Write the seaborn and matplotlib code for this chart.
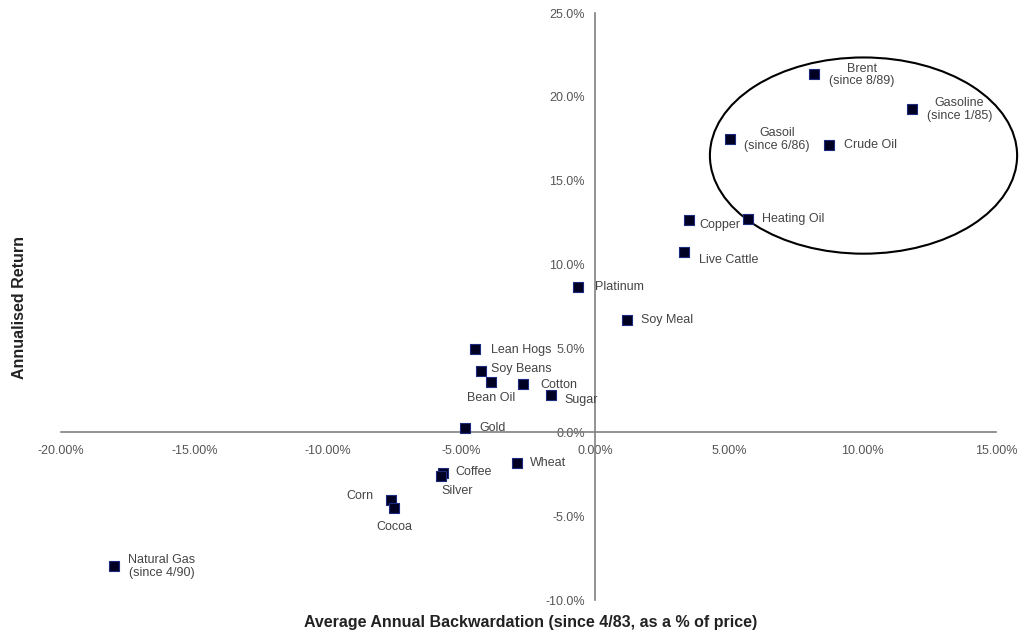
import matplotlib
matplotlib.use("Agg")
import matplotlib.pyplot as plt
from matplotlib.patches import Ellipse
from matplotlib.ticker import FuncFormatter
import pandas as pd
import seaborn as sns

# Data (values in %)
commodities = ["Natural Gas\n(since 4/90)", "Corn", "Cocoa", "Coffee", "Silver", "Gold", "Wheat",
               "Platinum", "Soy Meal", "Lean Hogs", "Soy Beans", "Bean Oil", "Cotton", "Sugar",
               "Copper", "Live Cattle", "Heating Oil", "Gasoil\n(since 6/86)",
               "Brent\n(since 8/89)", "Crude Oil", "Gasoline\n(since 1/85)"]
backwardation = [-18.0, -7.63, -7.53, -5.70, -5.78, -4.88, -2.94,
                 -0.64, 1.17, -4.50, -4.29, -3.91, -2.69, -1.64,
                 3.51, 3.31, 5.71, 5.05, 8.18, 8.75, 11.87]
annual_return = [-8.0, -4.05, -4.50, -2.40, -2.60, 0.28, -1.83,
                 8.66, 6.68, 4.95, 3.64, 3.00, 2.86, 2.25,
                 12.64, 10.75, 12.74, 17.51, 21.35, 17.11, 19.30]
# label offsets in pixels, and horizontal alignment
label_dx = [14, -18, 0, 12, 1, 14, 13, 17, 14, 16, 10, 0, 17, 13, 10, 15, 14, 47, 48, 15, 47]
label_dy = [0, 4, -19, 1, -15, 0, 0, 0, 0, -1, 2, -16, -1, -5, -5, -8, 0, -1, -1, 0, -1]
label_ha = ["left", "right", "center", "left", "left", "left", "left", "left", "left", "left",
            "left", "center", "left", "left", "left", "left", "left", "center", "center",
            "left", "center"]

df = pd.DataFrame({"commodity": commodities, "x": backwardation, "y": annual_return})

sns.set_style("white")
plt.rcParams["font.family"] = ["Liberation Sans", "DejaVu Sans"]

fig = plt.figure(figsize=(10.36, 6.35), dpi=100)
ax = fig.add_axes([0.0589, 0.0551, 0.9025, 0.9244])

sns.scatterplot(data=df, x="x", y="y", marker="s", s=45, color="#000022",
                edgecolor="#1c2a80", linewidth=0.8, ax=ax, zorder=3)

for i, row in df.iterrows():
    ax.annotate(row["commodity"], (row["x"], row["y"]),
                xytext=(label_dx[i], label_dy[i]), textcoords="offset pixels",
                ha=label_ha[i], va="center", fontsize=9, color="#444444",
                multialignment="center", linespacing=1.05)

# ellipse around the energy complex
ax.add_patch(Ellipse((10.04, 16.5), 11.5, 11.7, fill=False, edgecolor="black",
                     linewidth=1.5, clip_on=False, zorder=2))

ax.set_xlim(-20, 15)
ax.set_ylim(-10, 25)
ax.set_xticks([-20, -15, -10, -5, 0, 5, 10, 15])
ax.set_yticks([-10, -5, 0, 5, 10, 15, 20, 25])
ax.xaxis.set_major_formatter(FuncFormatter(lambda v, p: f"{v:.2f}%"))
ax.yaxis.set_major_formatter(FuncFormatter(lambda v, p: f"{v:.1f}%"))

# axes crossing at the origin
for side in ["top", "right"]:
    ax.spines[side].set_visible(False)
ax.spines["left"].set_position(("data", 0))
ax.spines["bottom"].set_position(("data", 0))
for side in ["left", "bottom"]:
    ax.spines[side].set_color("#808080")
    ax.spines[side].set_linewidth(1.2)
ax.tick_params(axis="both", which="major", length=4, width=0.8, color="#808080",
               labelsize=9, labelcolor="#555555", direction="out")
ax.tick_params(axis="x", pad=5)
ax.set_xlabel("")
ax.set_ylabel("")

fig.text(0.512, 0.02, "Average Annual Backwardation (since 4/83, as a % of price)",
         ha="center", va="center", fontsize=11.5, fontweight="bold", color="#222222")
fig.text(0.019, 0.515, "Annualised Return", ha="center", va="center", rotation=90,
         fontsize=11.5, fontweight="bold", color="#222222")

fig.patch.set_facecolor("white")
plt.savefig("out.png", dpi=100)
